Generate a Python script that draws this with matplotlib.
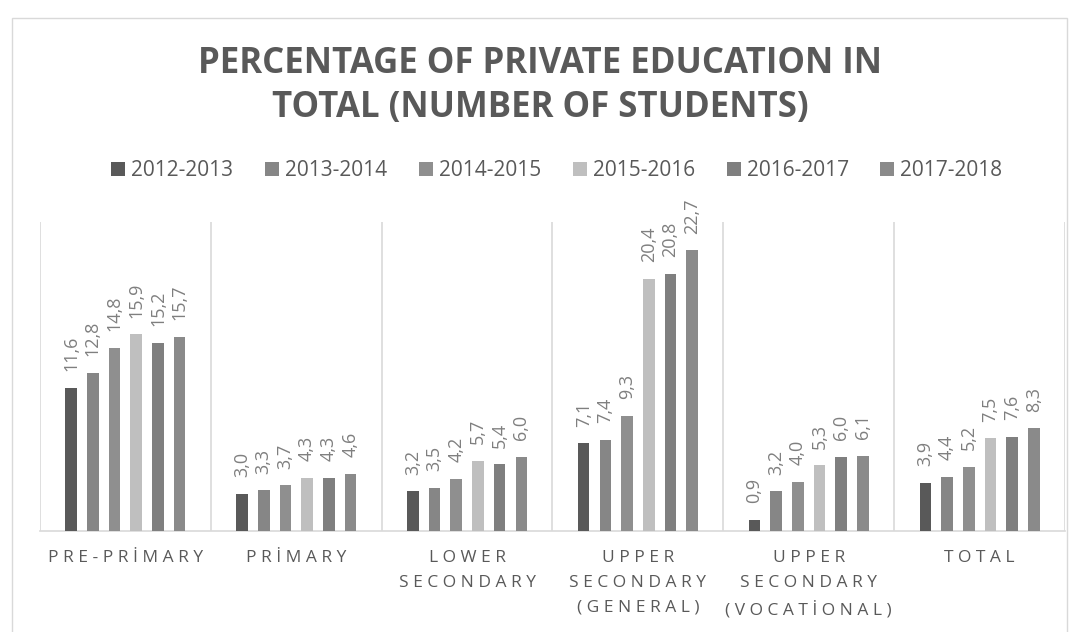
import numpy as np
import matplotlib
matplotlib.use('Agg')
import matplotlib.pyplot as plt
from matplotlib.patches import Rectangle

# Share of private education in total student numbers, by level and school year
categories = ['PRE-PRİMARY', 'PRİMARY', 'LOWER\nSECONDARY', 'UPPER\nSECONDARY\n(GENERAL)',
              'UPPER\nSECONDARY\n(VOCATİONAL)', 'TOTAL']
years = ['2012-2013', '2013-2014', '2014-2015', '2015-2016', '2016-2017', '2017-2018']
v2012 = [11.6, 3.0, 3.2, 7.1, 0.9, 3.9]
v2013 = [12.8, 3.3, 3.5, 7.4, 3.2, 4.4]
v2014 = [14.8, 3.7, 4.2, 9.3, 4.0, 5.2]
v2015 = [15.9, 4.3, 5.7, 20.4, 5.3, 7.5]
v2016 = [15.2, 4.3, 5.4, 20.8, 6.0, 7.6]
v2017 = [15.7, 4.6, 6.0, 22.7, 6.1, 8.3]
series = [v2012, v2013, v2014, v2015, v2016, v2017]
colors = ['#595959', '#868686', '#8f8f8f', '#bfbfbf', '#7f7f7f', '#8a8a8a']

FONT = 'Open Sans'
TXT = '#595959'


def spaced(s, sep=' '):
    '''
    Spreads the letters of a label apart, line by line
    '''
    return '\n'.join(sep.join(list(line)) for line in s.split('\n'))


fig = plt.figure(figsize=(10.79, 6.32), dpi=100)
#Chart border
fig.patches.append(Rectangle((12 / 1079, -0.01), 1055 / 1079, 1 - 18 / 632 + 0.01,
                             transform=fig.transFigure, fill=False,
                             edgecolor='#d9d9d9', linewidth=1))
ax = fig.add_axes([40 / 1079, 1 - 531 / 632, 1025 / 1079, 309 / 632])

n = len(categories)
x = np.arange(n)
width = 0.068
step = 0.127
offsets = (np.arange(len(series)) - (len(series) - 1) / 2) * step

for i, (vals, col, lab) in enumerate(zip(series, colors, years)):
    bars = ax.bar(x + offsets[i], vals, width, color=col, label=lab, zorder=3)
    for b, v in zip(bars, vals):
        ax.annotate(('%.1f' % v).replace('.', ','),
                    (b.get_x() + b.get_width() / 2, v),
                    xytext=(0, 12), textcoords='offset points',
                    rotation=90, ha='center', va='bottom', fontsize=13,
                    color='#7f7f7f', family=FONT)

ax.set_xlim(-0.5, n - 0.5)
ax.set_ylim(0, 25)
ax.set_yticks([])
#Group separators
for sep in np.arange(-0.5, n, 1.0):
    ax.axvline(sep, color='#d9d9d9', linewidth=1.2, zorder=1)
for side in ['top', 'right', 'left']:
    ax.spines[side].set_visible(False)
ax.spines['bottom'].set_color('#d9d9d9')
ax.spines['bottom'].set_linewidth(1.2)
ax.set_xticks(x)
ax.set_xticklabels([spaced(c) for c in categories], fontsize=12.5, color=TXT,
                   family=FONT, linespacing=1.75, va='top')
ax.tick_params(axis='x', length=0, pad=13.5)

fig.text(540 / 1079, 1 - 86 / 632, 'PERCENTAGE OF PRIVATE EDUCATION IN\nTOTAL (NUMBER OF STUDENTS)',
         ha='center', va='center', fontsize=25, fontweight='bold', color=TXT,
         family=FONT, linespacing=1.31)

leg = fig.legend(loc='center', bbox_to_anchor=(557 / 1079, 1 - 171 / 632), ncol=6,
                 frameon=False, handlelength=0.67, handleheight=0.67,
                 handletextpad=0.29, columnspacing=1.52, borderpad=0,
                 prop={'family': FONT, 'size': 15})
for t in leg.get_texts():
    t.set_color(TXT)

plt.savefig('out.png', dpi=100)
